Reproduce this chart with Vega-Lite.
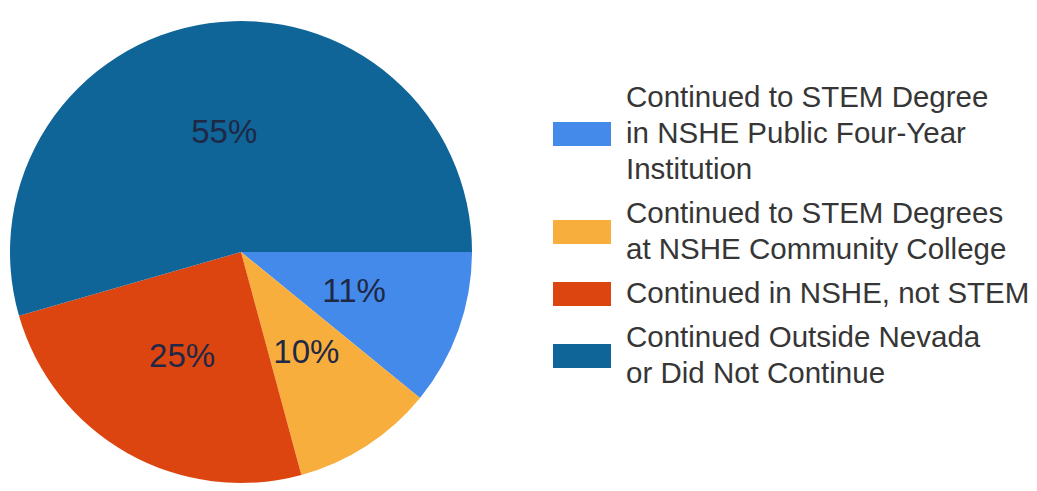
{
  "$schema": "https://vega.github.io/schema/vega-lite/v6.json",
  "width": 482,
  "height": 478,
  "padding": {"left": 0, "top": 13, "right": 0, "bottom": 0},
  "background": "white",
  "view": {"stroke": null},
  "config": {
    "style": {"guide-label": {"lineHeight": 36}},
    "legend": {
      "orient": "none",
      "legendX": 553,
      "legendY": 56,
      "symbolSize": 3364,
      "symbolStrokeWidth": 0,
      "symbolOpacity": 1,
      "labelFont": "Liberation Sans",
      "labelFontSize": 29.5,
      "labelColor": "#363636",
      "labelOffset": 15,
      "labelLimit": 0,
      "rowPadding": -15
    }
  },
  "data": {
    "values": [
      {"cat": "Continued to STEM Degree in NSHE Public Four-Year Institution", "pct": 11, "label": "11%", "order": 1},
      {"cat": "Continued to STEM Degrees at NSHE Community College", "pct": 10, "label": "10%", "order": 2},
      {"cat": "Continued in NSHE, not STEM", "pct": 25, "label": "25%", "order": 3},
      {"cat": "Continued Outside Nevada or Did Not Continue", "pct": 55, "label": "55%", "order": 4}
    ]
  },
  "layer": [
    {
      "mark": {"type": "arc", "radius": 231, "stroke": null},
      "encoding": {
        "theta": {"field": "pct", "type": "quantitative", "stack": true, "scale": {"range": [1.5708, 7.854]}},
        "order": {"field": "order", "type": "quantitative", "sort": "ascending"},
        "color": {
          "field": "cat",
          "type": "nominal",
          "scale": {
            "domain": [
              "Continued to STEM Degree in NSHE Public Four-Year Institution",
              "Continued to STEM Degrees at NSHE Community College",
              "Continued in NSHE, not STEM",
              "Continued Outside Nevada or Did Not Continue"
            ],
            "range": ["#438aea", "#f8ae3c", "#dd4510", "#0f6598"]
          },
          "legend": {
            "title": null,
            "labelExpr": "datum.label == 'Continued to STEM Degree in NSHE Public Four-Year Institution' ? ['Continued to STEM Degree', 'in NSHE Public Four-Year', 'Institution'] : datum.label == 'Continued to STEM Degrees at NSHE Community College' ? ['Continued to STEM Degrees', 'at NSHE Community College'] : datum.label == 'Continued Outside Nevada or Did Not Continue' ? ['Continued Outside Nevada', 'or Did Not Continue'] : datum.label"
          }
        }
      }
    },
    {
      "mark": {"type": "text", "radius": 120, "font": "Liberation Sans", "fontSize": 33, "color": "#1f2844"},
      "encoding": {
        "theta": {"field": "pct", "type": "quantitative", "stack": true, "scale": {"range": [1.5708, 7.854]}},
        "order": {"field": "order", "type": "quantitative", "sort": "ascending"},
        "text": {"field": "label", "type": "nominal"}
      }
    },
    {
      "mark": {"type": "point", "filled": true, "opacity": 0},
      "encoding": {
        "color": {
          "field": "cat",
          "type": "nominal",
          "legend": {
            "title": null,
            "labelExpr": "datum.label == 'Continued to STEM Degree in NSHE Public Four-Year Institution' ? ['Continued to STEM Degree', 'in NSHE Public Four-Year', 'Institution'] : datum.label == 'Continued to STEM Degrees at NSHE Community College' ? ['Continued to STEM Degrees', 'at NSHE Community College'] : datum.label == 'Continued Outside Nevada or Did Not Continue' ? ['Continued Outside Nevada', 'or Did Not Continue'] : datum.label"
          }
        },
        "shape": {
          "field": "cat",
          "type": "nominal",
          "scale": {
            "domain": [
              "Continued to STEM Degree in NSHE Public Four-Year Institution",
              "Continued to STEM Degrees at NSHE Community College",
              "Continued in NSHE, not STEM",
              "Continued Outside Nevada or Did Not Continue"
            ],
            "range": [
              "M-1,0.831H1V1.651H-1Z",
              "M-1,0.2107H1V1.0307H-1Z",
              "M-1,-0.41H1V0.41H-1Z",
              "M-1,0.2107H1V1.0307H-1Z"
            ]
          },
          "legend": {
            "title": null,
            "labelExpr": "datum.label == 'Continued to STEM Degree in NSHE Public Four-Year Institution' ? ['Continued to STEM Degree', 'in NSHE Public Four-Year', 'Institution'] : datum.label == 'Continued to STEM Degrees at NSHE Community College' ? ['Continued to STEM Degrees', 'at NSHE Community College'] : datum.label == 'Continued Outside Nevada or Did Not Continue' ? ['Continued Outside Nevada', 'or Did Not Continue'] : datum.label"
          }
        }
      }
    }
  ]
}
